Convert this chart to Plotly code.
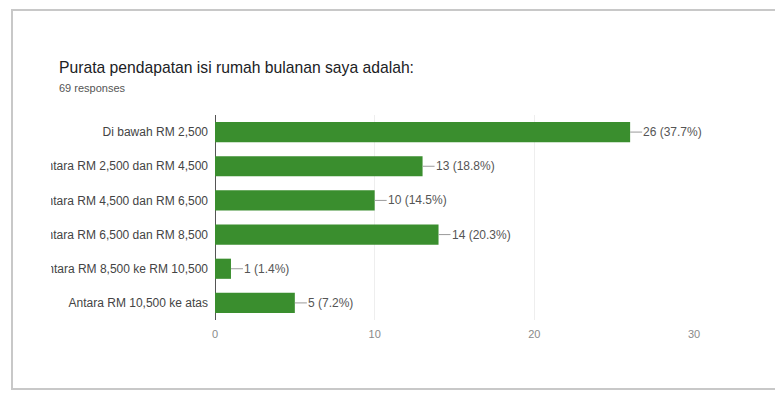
import plotly.graph_objects as go

# Survey answers: monthly household income bands
categories = [
    "Di bawah RM 2,500",
    "Antara RM 2,500 dan RM 4,500",
    "Antara RM 4,500 dan RM 6,500",
    "Antara RM 6,500 dan RM 8,500",
    "Antara RM 8,500 ke RM 10,500",
    "Antara RM 10,500 ke atas",
]
counts = [26, 13, 10, 14, 1, 5]
percents = [37.7, 18.8, 14.5, 20.3, 1.4, 7.2]
total_responses = 69
x_ticks = [0, 10, 20, 30]

fig = go.Figure(
    go.Bar(
        y=categories,
        x=counts,
        orientation="h",
        marker=dict(color="#3a8e2e", line=dict(width=0)),
        hoverinfo="skip",
    )
)

fig.update_layout(
    width=775,
    height=395,
    margin=dict(l=215, r=81, t=115, b=75),
    paper_bgcolor="white",
    plot_bgcolor="white",
    showlegend=False,
    bargap=0.41,
    font=dict(family="Liberation Sans, Arial", size=12, color="#444444"),
    xaxis=dict(
        range=[0, 30],
        tickvals=x_ticks,
        showgrid=True,
        gridcolor="#eeeeee",
        gridwidth=1,
        zeroline=True,
        zerolinecolor="#555555",
        zerolinewidth=1,
        showline=False,
        ticks="",
        ticklabelstandoff=6,
        tickfont=dict(size=11, color="#8a8a8a"),
        fixedrange=True,
    ),
    yaxis=dict(
        categoryorder="array",
        categoryarray=categories[::-1],
        showgrid=False,
        ticks="",
        ticklen=0,
        ticklabelstandoff=6,
        tickfont=dict(size=12, color="#444444"),
        fixedrange=True,
    ),
)

# Value labels joined to the bar ends by a short leader line
for cat, c, p in zip(categories, counts, percents):
    fig.add_annotation(
        x=c, y=cat, xref="x", yref="y",
        text=f"{c} ({p}%)",
        showarrow=True, arrowhead=0, arrowwidth=1, arrowcolor="#9a9a9a",
        ax=12, ay=0, xanchor="left", yanchor="middle",
        standoff=0, startstandoff=0, borderpad=0,
        font=dict(family="Liberation Sans, Arial", size=12, color="#555555"),
    )

# Frame of the card and the mask that crops long category names on the left
fig.add_shape(type="rect", xref="paper", yref="paper", layer="above",
              x0=(13 - 215) / 479, x1=(51 - 215) / 479,
              y0=-0.1, y1=1.0,
              fillcolor="white", line=dict(width=0))
fig.add_shape(type="rect", xref="paper", yref="paper", layer="above",
              x0=(12 - 215) / 479, x1=(790 - 215) / 479,
              y0=(395 - 75 - 389) / 205, y1=(395 - 75 - 10) / 205,
              fillcolor="rgba(0,0,0,0)", line=dict(color="#c8c8c8", width=2))

# Title block
fig.add_annotation(text="Purata pendapatan isi rumah bulanan saya adalah:",
                   xref="paper", yref="paper",
                   x=(57 - 215) / 479, y=(395 - 75 - 67) / 205,
                   xanchor="left", yanchor="middle", showarrow=False,
                   font=dict(family="Liberation Sans, Arial", size=15.7, color="#202124"))
fig.add_annotation(text=f"{total_responses} responses",
                   xref="paper", yref="paper",
                   x=(57 - 215) / 479, y=(395 - 75 - 88) / 205,
                   xanchor="left", yanchor="middle", showarrow=False,
                   font=dict(family="Liberation Sans, Arial", size=11, color="#555555"))

fig.write_html("out.html")
